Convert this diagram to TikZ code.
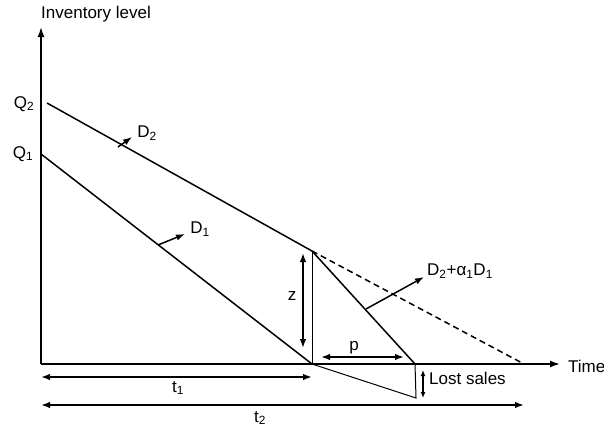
\documentclass[tikz,border=0pt]{standalone}
\usepackage{fontspec}
\setmainfont{Liberation Sans}
\usetikzlibrary{arrows.meta}

\tikzset{
    axisline/.style={line width=1.6pt,-{Latex[length=10pt,width=7pt]}},
    demand/.style={line width=1.5pt},
    guide/.style={line width=1pt},
    span/.style={line width=1.5pt,{Latex[length=9pt,width=6.5pt]}-{Latex[length=9pt,width=6.5pt]}},
    rate/.style={line width=1.5pt,-{Latex[length=9pt,width=6.5pt]}},
    lbl/.style={font=\fontsize{17}{20}\selectfont,inner sep=1pt},
}

\begin{document}
\begin{tikzpicture}[x=1pt,y=-1pt]
\useasboundingbox (0,0) rectangle (604,426);

% axes
\coordinate (O) at (41,364);
\coordinate (ytip) at (41,27);
\coordinate (xtip) at (560,364);
\draw[axisline] (O) -- (ytip);
\draw[axisline] (O) -- (xtip);
\node[lbl,anchor=west] (ylabel) at (40,14) {Inventory level};
\node[lbl,anchor=west] (time) at (567,366) {Time};
\node[lbl] (q2) at (24,104) {Q\textsubscript{2}};
\node[lbl] (q1) at (23,154) {Q\textsubscript{1}};

% demand lines
\coordinate (d2start) at (47,103);
\coordinate (d1start) at (41,154);
\coordinate (kink) at (312,251);
\coordinate (tone) at (312,364);
\coordinate (pend) at (415,364);
\coordinate (ttwo) at (524,364);
\coordinate (lost) at (416,398);
\draw[demand] (d2start) -- (kink);
\draw[demand] (d1start) -- (tone);
\draw[demand] (kink) -- (pend);
\draw[demand,dash pattern=on 6pt off 4pt] (kink) -- (ttwo);
\draw[guide] (kink) -- (tone);
\draw[guide] (tone) -- (lost) -- (pend);

% rates
\coordinate (r2a) at (118,147);
\coordinate (r2b) at (132,137);
\coordinate (r1a) at (158,245);
\coordinate (r1b) at (185,234);
\coordinate (r3a) at (366,309);
\coordinate (r3b) at (424,277);
\draw[rate] (r2a) -- (r2b);
\draw[rate] (r1a) -- (r1b);
\draw[rate] (r3a) -- (r3b);
\node[lbl] (dtwo) at (147,133) {D\textsubscript{2}};
\node[lbl] (done) at (200,229) {D\textsubscript{1}};
\node[lbl,anchor=west] (dmix) at (426,271) {D\textsubscript{2}+α\textsubscript{1}D\textsubscript{1}};

% spans
\coordinate (za) at (303,253);
\coordinate (zb) at (303,348);
\coordinate (pa) at (321,357);
\coordinate (pb) at (404,357);
\coordinate (la) at (423,370);
\coordinate (lb) at (423,398);
\coordinate (t1a) at (41,377);
\coordinate (t1b) at (312,377);
\coordinate (t2a) at (41,405);
\coordinate (t2b) at (524,405);
\draw[span] (za) -- (zb);
\draw[span] (pa) -- (pb);
\draw[span,{Latex[length=6pt,width=5pt]}-{Latex[length=6pt,width=5pt]}] (la) -- (lb);
\draw[span] (t1a) -- (t1b);
\draw[span] (t2a) -- (t2b);
\node[lbl] (zlbl) at (292,296) {z};
\node[lbl] (plbl) at (354,348) {p};
\node[lbl,anchor=west] (lostlbl) at (428,378) {Lost sales};
\node[lbl] (t1lbl) at (178,388) {t\textsubscript{1}};
\node[lbl] (t2lbl) at (260,418) {t\textsubscript{2}};
\end{tikzpicture}
\end{document}
